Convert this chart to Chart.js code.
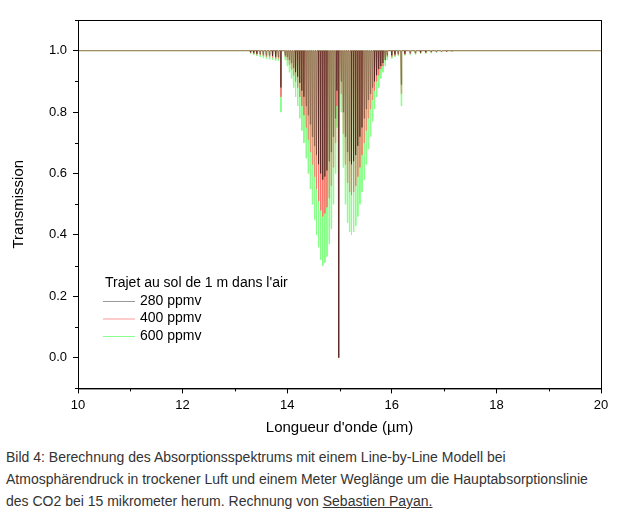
<!DOCTYPE html>
<html><head><meta charset="utf-8">
<script src="https://cdn.jsdelivr.net/npm/chart.js@4"></script>
<style>
body{margin:0;background:#fff;font-family:Arial,"Liberation Sans",sans-serif;}
#wrap{position:absolute;left:0;top:0;width:625px;height:440px;}
#cap{position:absolute;left:4px;top:446px;width:608px;font-size:14px;line-height:22px;color:#333;padding-left:2px;}
#cap a{color:#333;text-decoration:underline;}
</style></head><body>
<div id="wrap"><canvas id="c" width="625" height="440"></canvas></div>
<div id="cap">Bild 4: Berechnung des Absorptionsspektrums mit einem Line-by-Line Modell bei Atmosphärendruck in trockener Luft und einem Meter Weglänge um die Hauptabsorptionslinie des CO2 bei 15 mikrometer herum. Rechnung von <a>Sebastien Payan.</a></div>
<script>
const seriesNames=["280 ppmv","400 ppmv","600 ppmv"];
const xTicks=[10,12,14,16,18,20];
const yTicks=[0.0,0.2,0.4,0.6,0.8,1.0];
// P branch line positions (µm) and minimum transmission
const pLines=[13.96,14.00,14.04,14.08,14.12,14.16,14.20,14.24,14.28,14.32,14.36,14.40,14.44,14.48,14.52,14.56,14.60,14.64,14.68,14.72,14.76,14.80,14.84,14.88,14.92,14.95];
const p280=[.985,.98,.97,.96,.945,.93,.915,.895,.87,.85,.82,.79,.76,.72,.69,.66,.63,.60,.58,.59,.61,.64,.67,.72,.78,.87];
const p400=[.98,.97,.955,.94,.92,.90,.88,.85,.82,.79,.75,.71,.67,.63,.59,.55,.51,.48,.46,.47,.49,.52,.56,.62,.70,.82];
const p600=[.97,.95,.93,.91,.88,.85,.82,.78,.74,.70,.65,.60,.55,.50,.45,.40,.36,.32,.30,.31,.33,.37,.42,.50,.60,.75];
// R branch
const rLines=[15.03,15.07,15.11,15.15,15.19,15.23,15.27,15.31,15.35,15.39,15.43,15.47,15.51,15.55,15.59,15.63,15.67,15.71,15.75,15.79,15.83,15.87,15.91];
const r280=[.90,.80,.72,.67,.64,.63,.64,.66,.69,.72,.75,.78,.81,.84,.86,.88,.90,.92,.94,.95,.96,.97,.985];
const r400=[.86,.73,.63,.57,.54,.53,.54,.56,.59,.62,.66,.70,.74,.78,.81,.84,.87,.90,.92,.94,.95,.97,.98];
const r600=[.80,.62,.50,.44,.41,.40,.41,.43,.46,.50,.54,.58,.63,.68,.72,.77,.81,.85,.88,.91,.93,.95,.97];
// Q branches
const qLines=[13.88,14.985,16.18];
const q280=[.88,0.0,.89];
const q400=[.85,0.0,.86];
const q600=[.80,0.0,.82];
// weak wing lines
const wLines=[13.30,13.36,13.42,13.48,13.54,13.60,13.66,13.72,13.78,13.83,16.00,16.06,16.12,16.25,16.35,16.45,16.55,16.65,16.75,16.85,16.95,17.05,17.15];
const w280=[.995,.993,.99,.99,.988,.985,.985,.983,.98,.98,.985,.988,.99,.99,.992,.993,.994,.995,.996,.997,.997,.998,.999];
const w400=[.993,.99,.988,.986,.983,.98,.98,.978,.975,.975,.98,.984,.987,.988,.99,.991,.992,.993,.995,.996,.996,.997,.998];
const w600=[.99,.986,.983,.98,.977,.974,.972,.97,.968,.968,.975,.98,.983,.985,.987,.988,.99,.991,.993,.994,.995,.996,.997];

function build(sets){
  const lines=[];
  sets.forEach(([pos,val])=>pos.forEach((p,i)=>lines.push([p,val[i]])));
  lines.sort((a,b)=>a[0]-b[0]);
  const pts=[{x:10,y:1},{x:13.2,y:1}];
  lines.forEach(([p,v])=>{pts.push({x:p-0.01,y:1});pts.push({x:p,y:v});pts.push({x:p+0.01,y:1});});
  pts.push({x:17.3,y:1});pts.push({x:20,y:1});
  return pts;
}
const d280=build([[pLines,p280],[rLines,r280],[qLines,q280],[wLines,w280]]);
const d400=build([[pLines,p400],[rLines,r400],[qLines,q400],[wLines,w400]]);
const d600=build([[pLines,p600],[rLines,r600],[qLines,q600],[wLines,w600]]);
const colors=["rgba(0,0,0,0.45)","rgba(255,110,110,0.8)","#86ff86"];
const legendColors=["#999999","#ff9a9a","#8cff8c"];

const deco={id:'deco',afterDraw(ch){
  const c=ch.ctx,a=ch.chartArea;
  c.save();c.strokeStyle='#000';c.lineWidth=1;
  c.strokeRect(a.left+0.5,a.top+0.5,a.right-a.left,a.bottom-a.top);
  const xs=ch.scales.x,ys=ch.scales.y;
  c.beginPath();
  for(let v=11;v<20;v+=2){const px=Math.round(xs.getPixelForValue(v))+0.5;c.moveTo(px,a.bottom);c.lineTo(px,a.bottom+3);}
  for(let v=-0.1;v<1.15;v+=0.2){const py=Math.round(ys.getPixelForValue(v))+0.5;c.moveTo(a.left,py);c.lineTo(a.left-3,py);}
  c.stroke();
  c.fillStyle='#000';c.font='14px Arial, "Liberation Sans"';c.textBaseline='middle';
  c.fillText("Trajet au sol de 1 m dans l'air",a.left+27,a.top+263);
  seriesNames.forEach((n,i)=>{
    const y=a.top+281+i*17.5;
    c.strokeStyle=legendColors[i];c.beginPath();c.moveTo(a.left+25,y+0.5);c.lineTo(a.left+57,y+0.5);c.stroke();
    c.fillText(n,a.left+62,y);
  });
  c.restore();
}};

new Chart(document.getElementById('c'),{
  type:'line',
  data:{datasets:[
    {label:seriesNames[0],data:d280,borderColor:colors[0],borderWidth:0.6,pointRadius:0,tension:0},
    {label:seriesNames[1],data:d400,borderColor:colors[1],borderWidth:0.8,pointRadius:0,tension:0},
    {label:seriesNames[2],data:d600,borderColor:colors[2],borderWidth:1,pointRadius:0,tension:0}
  ]},
  options:{
    responsive:false,animation:false,
    layout:{padding:{left:0,right:24,top:20,bottom:3}},
    plugins:{legend:{display:false},tooltip:{enabled:false}},
    scales:{
      x:{type:'linear',min:10,max:20,
        afterBuildTicks:s=>{s.ticks=xTicks.map(v=>({value:v}));},
        grid:{drawOnChartArea:false,tickLength:5,color:'#000'},border:{color:'#000'},
        ticks:{color:'#000',font:{size:13,family:'Arial'},padding:4},
        title:{display:true,text:"Longueur d'onde (µm)",color:'#000',font:{size:15,family:'Arial'},padding:{top:2,bottom:0}}},
      y:{min:-0.1,max:1.1,
        afterBuildTicks:s=>{s.ticks=yTicks.map(v=>({value:v}));},
        afterFit:s=>{s.width=78;},
        grid:{drawOnChartArea:false,tickLength:5,color:'#000'},border:{color:'#000'},
        ticks:{color:'#000',font:{size:13,family:'Arial'},padding:6,callback:v=>v.toFixed(1)},
        title:{display:true,text:"Transmission",color:'#000',font:{size:15,family:'Arial'},padding:{top:10,bottom:4}}}
    }
  },
  plugins:[deco]
});
</script></body></html>
